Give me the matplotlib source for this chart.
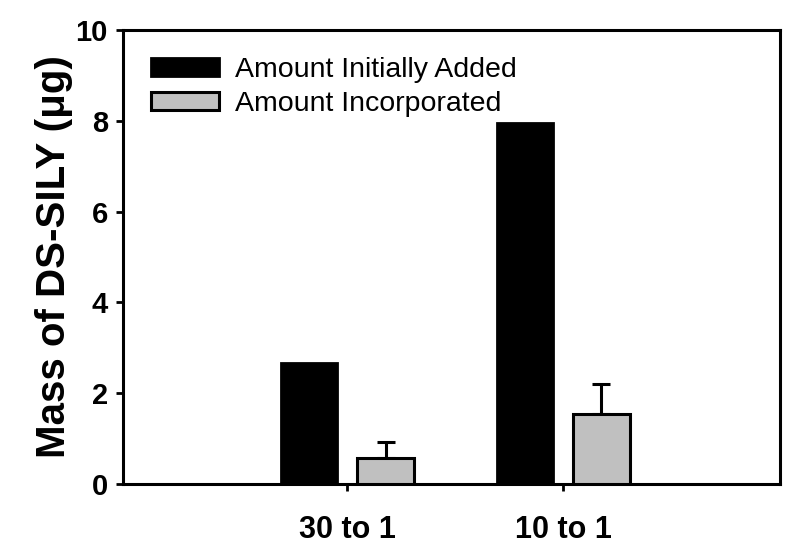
import matplotlib
matplotlib.use('Agg')
import matplotlib.pyplot as plt
import numpy as np

plt.rcParams['font.family'] = ['Liberation Sans', 'DejaVu Sans']

categories = ['30 to 1', '10 to 1']
added = [2.67, 7.95]
incorporated = [0.565, 1.55]
incorporated_err = [0.35, 0.66]

x = np.array([1.0, 2.0])
width = 0.26
offset = 0.178

fig = plt.figure(figsize=(8, 5.54), dpi=100)
ax = fig.add_axes([0.154, 0.1264, 0.821, 0.8194])

ax.bar(x - offset, added, width, color='black', edgecolor='black',
       linewidth=2, label='Amount Initially Added', zorder=3)
ax.bar(x + offset, incorporated, width, color='#c0c0c0', edgecolor='black',
       linewidth=2.2, label='Amount Incorporated', zorder=3)
ax.errorbar(x + offset, incorporated,
            yerr=[np.zeros(len(incorporated_err)), incorporated_err],
            fmt='none', ecolor='black', elinewidth=2.2, capsize=6.5,
            capthick=2.2, zorder=2)

ax.set_xlim(-0.037, 3.005)
ax.set_ylim(0, 10)
ax.set_yticks([0, 2, 4, 6, 8, 10])
ax.set_xticks(x)
ax.set_xticklabels(categories, fontsize=22, fontweight='bold')
for lab in ax.get_yticklabels():
    lab.set_fontsize(21)
    lab.set_fontweight('bold')
ax.tick_params(axis='both', direction='out', length=5, width=2, pad=6)
ax.tick_params(axis='x', pad=17)
for s in ax.spines.values():
    s.set_linewidth(2.2)

ax.set_ylabel('Mass of DS-SILY (μg)', fontsize=29, fontweight='bold', labelpad=2)

ax.legend(loc='upper left', bbox_to_anchor=(0.025, 0.965), frameon=False,
          fontsize=20.5, handlelength=2.4, handleheight=0.6, handletextpad=0.56,
          labelspacing=0.28, borderaxespad=0)

fig.savefig('out.png', dpi=100)
